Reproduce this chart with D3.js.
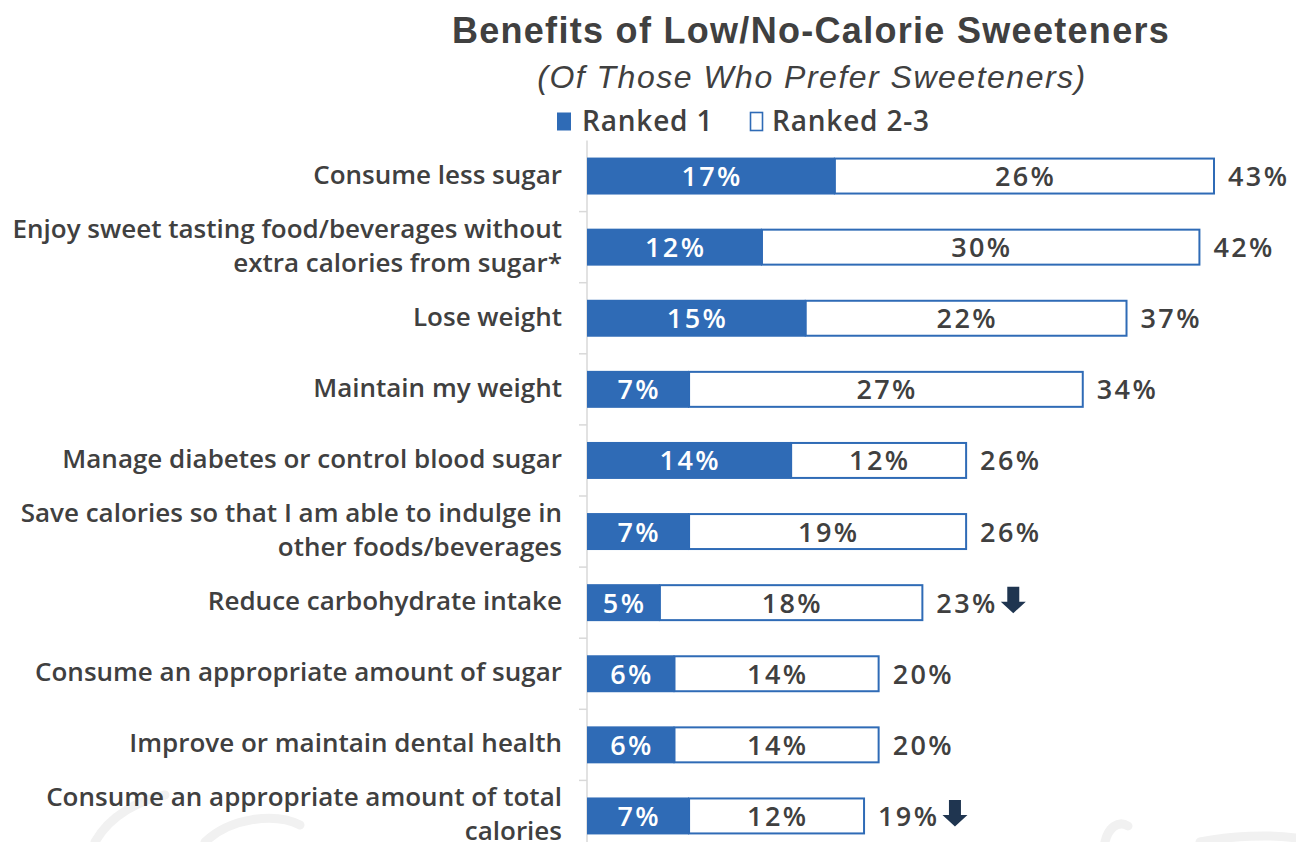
<!DOCTYPE html>
<html>
<head>
<meta charset="utf-8">
<script src="https://cdn.jsdelivr.net/npm/d3@7"></script>
<style>
  html, body { margin: 0; padding: 0; background: #ffffff; }
  svg { display: block; }
  text { font-family: "Open Sans", "Liberation Sans", sans-serif; fill: #404040; font-weight: 600; }
  .title { font-family: "Liberation Sans", sans-serif; font-weight: bold; }
  .subtitle { font-family: "Liberation Sans", sans-serif; font-weight: normal; font-style: italic; }
</style>
</head>
<body>
<svg id="chart" width="1296" height="842"></svg>
<script>
// Benefit statements (each entry is one row; inner arrays are wrapped lines)
const categories = [
  ["Consume less sugar"],
  ["Enjoy sweet tasting food/beverages without", "extra calories from sugar*"],
  ["Lose weight"],
  ["Maintain my weight"],
  ["Manage diabetes or control blood sugar"],
  ["Save calories so that I am able to indulge in", "other foods/beverages"],
  ["Reduce carbohydrate intake"],
  ["Consume an appropriate amount of sugar"],
  ["Improve or maintain dental health"],
  ["Consume an appropriate amount of total", "calories"]
];
const ranked1   = [17, 12, 15, 7, 14, 7, 5, 6, 6, 7];
const ranked23  = [26, 30, 22, 27, 12, 19, 18, 14, 14, 12];
const totals    = [43, 42, 37, 34, 26, 26, 23, 20, 20, 19];
const declined  = [false, false, false, false, false, false, true, false, false, true];
const seriesNames = ["Ranked 1", "Ranked 2-3"];

const blue = "#2F6BB6";
const arrowInk = "#1F3550";

const svg = d3.select("#chart");
const rowKeys = categories.map((c, i) => i);

const x = d3.scaleLinear().domain([0, 43]).range([587, 1214]);
const y = d3.scaleBand().domain(rowKeys).range([140.5, 851.5])
  .paddingInner(0.48).paddingOuter(0.24);

// Faint background ornament near the bottom edge
const deco = svg.append("g").attr("fill", "none").attr("stroke", "#f1f1f1").attr("stroke-width", 9)
  .attr("stroke-linecap", "round");
deco.append("path").attr("d", "M95,842 C110,815 140,800 165,795");
deco.append("path").attr("d", "M205,842 C230,818 275,812 300,825");
deco.append("path").attr("d", "M1105,842 C1108,828 1118,820 1128,826");
deco.append("path").attr("d", "M1200,842 C1230,836 1270,834 1296,838");

// Title block
svg.append("text")
  .attr("class", "title")
  .attr("x", 811).attr("y", 43)
  .attr("text-anchor", "middle")
  .style("font-size", "36px").style("letter-spacing", "1.3px")
  .text("Benefits of Low/No-Calorie Sweeteners");
svg.append("text")
  .attr("class", "subtitle")
  .attr("x", 812).attr("y", 88)
  .attr("text-anchor", "middle")
  .style("font-size", "32px").style("letter-spacing", "1.5px")
  .text("(Of Those Who Prefer Sweeteners)");

// Legend
const legend = svg.append("g");
const legendItems = [
  { name: seriesNames[0], sx: 557, w: 14, tx: 582, filled: true },
  { name: seriesNames[1], sx: 750.5, w: 12, tx: 772, filled: false }
];
legendItems.forEach(d => {
  legend.append("rect")
    .attr("x", d.sx).attr("y", 112.5).attr("width", d.w).attr("height", 18)
    .attr("fill", d.filled ? blue : "#ffffff")
    .attr("stroke", d.filled ? "none" : blue).attr("stroke-width", 1.6);
  legend.append("text")
    .attr("x", d.tx).attr("y", 131)
    .style("font-size", "28px").style("letter-spacing", "0.8px")
    .text(d.name);
});

// Category axis on the left edge of the bars
const axis = d3.axisLeft(y).tickSize(0).tickFormat("");
const axisG = svg.append("g").attr("transform", `translate(${x(0)},0)`).call(axis);
axisG.select(".domain").attr("stroke", "#d9d9d9").attr("stroke-width", 1.5)
  .attr("d", `M0,${y.range()[0]}V842`);
// Separator ticks between rows
axisG.selectAll(".sep")
  .data(d3.range(1, categories.length))
  .join("line")
  .attr("class", "sep")
  .attr("x1", -8).attr("x2", 0)
  .attr("y1", i => y(i) - y.step() * y.paddingInner() / 2)
  .attr("y2", i => y(i) - y.step() * y.paddingInner() / 2)
  .attr("stroke", "#d9d9d9").attr("stroke-width", 1.5);

// Category labels
const labels = svg.append("g");
categories.forEach((lines, i) => {
  const cy = y(i) + y.bandwidth() / 2;
  const lh = 34;
  const t = labels.append("text")
    .attr("x", 562)
    .attr("text-anchor", "end")
    .style("font-size", "26px");
  lines.forEach((ln, j) => {
    t.append("tspan")
      .attr("x", 562)
      .attr("y", cy + 7.5 + (j - (lines.length - 1) / 2) * lh)
      .text(ln);
  });
});

// Bars
const rows = svg.append("g").selectAll("g.row")
  .data(rowKeys)
  .join("g").attr("class", "row");

rows.append("rect")
  .attr("x", i => x(ranked1[i]))
  .attr("y", i => y(i) + 1)
  .attr("width", i => x(ranked1[i] + ranked23[i]) - x(ranked1[i]))
  .attr("height", i => y.bandwidth() - 2)
  .attr("fill", "#ffffff")
  .attr("stroke", blue).attr("stroke-width", 2);

rows.append("rect")
  .attr("x", x(0))
  .attr("y", i => y(i))
  .attr("width", i => x(ranked1[i]) - x(0))
  .attr("height", y.bandwidth())
  .attr("fill", blue);

const valueFont = { size: "27px", spacing: 2.4 };

rows.append("text")
  .attr("x", i => (x(0) + x(ranked1[i])) / 2 + valueFont.spacing / 2)
  .attr("y", i => y(i) + y.bandwidth() / 2 + 10)
  .attr("text-anchor", "middle")
  .style("font-size", valueFont.size).style("letter-spacing", valueFont.spacing + "px")
  .style("fill", "#ffffff")
  .text(i => ranked1[i] + "%");

rows.append("text")
  .attr("x", i => (x(ranked1[i]) + x(ranked1[i] + ranked23[i])) / 2 + valueFont.spacing / 2)
  .attr("y", i => y(i) + y.bandwidth() / 2 + 10)
  .attr("text-anchor", "middle")
  .style("font-size", valueFont.size).style("letter-spacing", valueFont.spacing + "px")
  .text(i => ranked23[i] + "%");

const totalLabels = rows.append("text")
  .attr("x", i => x(ranked1[i] + ranked23[i]) + 14)
  .attr("y", i => y(i) + y.bandwidth() / 2 + 10)
  .style("font-size", valueFont.size).style("letter-spacing", valueFont.spacing + "px")
  .text(i => totals[i] + "%");

// Down arrows marking a decline
totalLabels.each(function (i) {
  if (!declined[i]) return;
  const bb = this.getBBox();
  const ax = bb.x + bb.width + 3;
  const cy = y(i) + y.bandwidth() / 2;
  d3.select(this.parentNode).append("path")
    .attr("d", `M${ax + 6.5},${cy - 16} h12 v15 h6.5 l-12.5,11.5 l-12.5,-11.5 h6.5 z`)
    .attr("fill", arrowInk);
});
</script>
</body>
</html>
